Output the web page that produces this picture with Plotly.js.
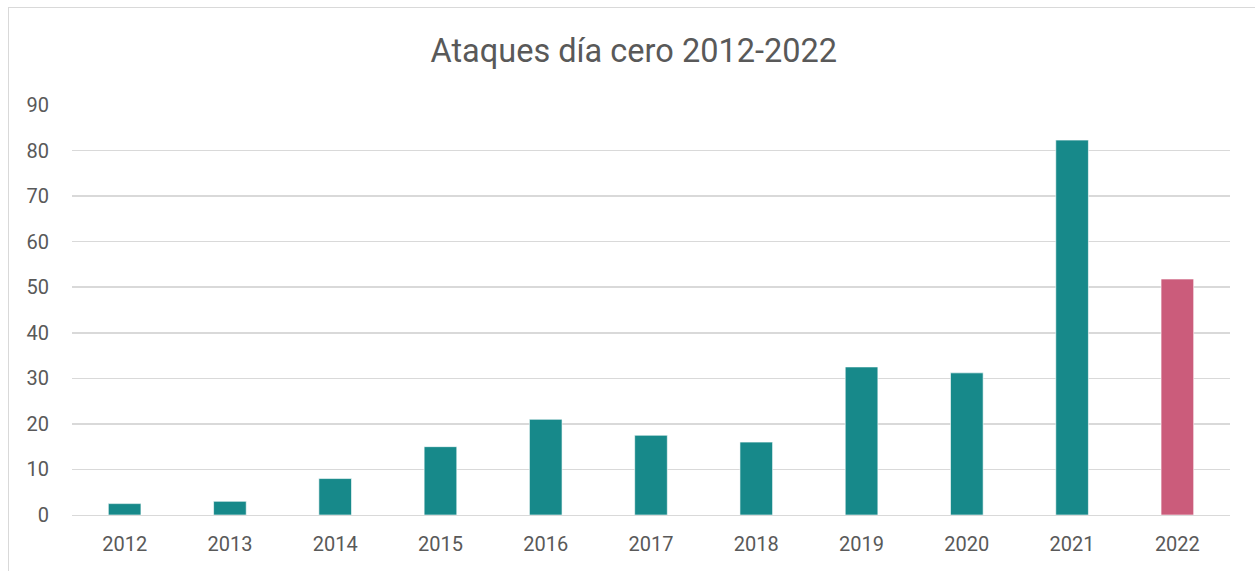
<!DOCTYPE html>
<html>
<head>
<meta charset="utf-8">
<script src="https://cdn.plot.ly/plotly-3.0.1.min.js"></script>
<style>
  html, body { margin: 0; padding: 0; background: #ffffff; }
  #wrap { position: absolute; left: 8px; top: 7px; width: 1260px; height: 580px; border: 1px solid #d9d9d9; box-sizing: border-box; }
  #chart { position: absolute; left: 0; top: 0; width: 1255px; height: 571px; }
</style>
</head>
<body>
<div id="wrap"></div>
<div id="chart"></div>
<script>
const years = ["2012","2013","2014","2015","2016","2017","2018","2019","2020","2021","2022"];
const attacks = [2.5, 3, 8, 15, 21, 17.5, 16, 32.5, 31.2, 82.3, 51.8];
const yTicks = [0,10,20,30,40,50,60,70,80,90];

const teal = "#17898a";
const pink = "#cb5c7b";
const barColors = years.map((y, i) => i === years.length - 1 ? pink : teal);

const trace = {
  type: "bar",
  x: years,
  y: attacks,
  marker: { color: barColors, line: { color: "rgba(255,255,255,0.6)", width: 1 } },
  hoverinfo: "x+y"
};

const layout = {
  width: 1255,
  height: 571,
  paper_bgcolor: "rgba(0,0,0,0)",
  plot_bgcolor: "rgba(0,0,0,0)",
  margin: { l: 72, r: 25, t: 105, b: 56 },
  bargap: 0.69,
  showlegend: false,
  font: { family: "Roboto, 'Open Sans', sans-serif", color: "#595959" },
  title: {
    text: "Ataques día cero 2012-2022",
    font: { size: 32.5, color: "#595959", family: "Roboto, sans-serif" },
    x: 0.505, xanchor: "center",
    y: 0.912, yanchor: "middle"
  },
  xaxis: {
    type: "category",
    tickfont: { size: 20, color: "#595959" },
    ticks: "outside", ticklen: 11, tickcolor: "rgba(0,0,0,0)",
    showline: true, linecolor: "#d9d9d9", linewidth: 1,
    showgrid: false, zeroline: false
  },
  yaxis: {
    range: [0, 90],
    tickvals: yTicks,
    ticktext: yTicks.map(String),
    tickfont: { size: 20, color: "#595959" },
    ticks: "outside", ticklen: 18, tickcolor: "rgba(0,0,0,0)",
    showgrid: true, gridcolor: "#d9d9d9", gridwidth: 1.5,
    zeroline: false, showline: false
  }
};

Plotly.newPlot("chart", [trace], layout, { displayModeBar: false, staticPlot: true });
</script>
</body>
</html>
